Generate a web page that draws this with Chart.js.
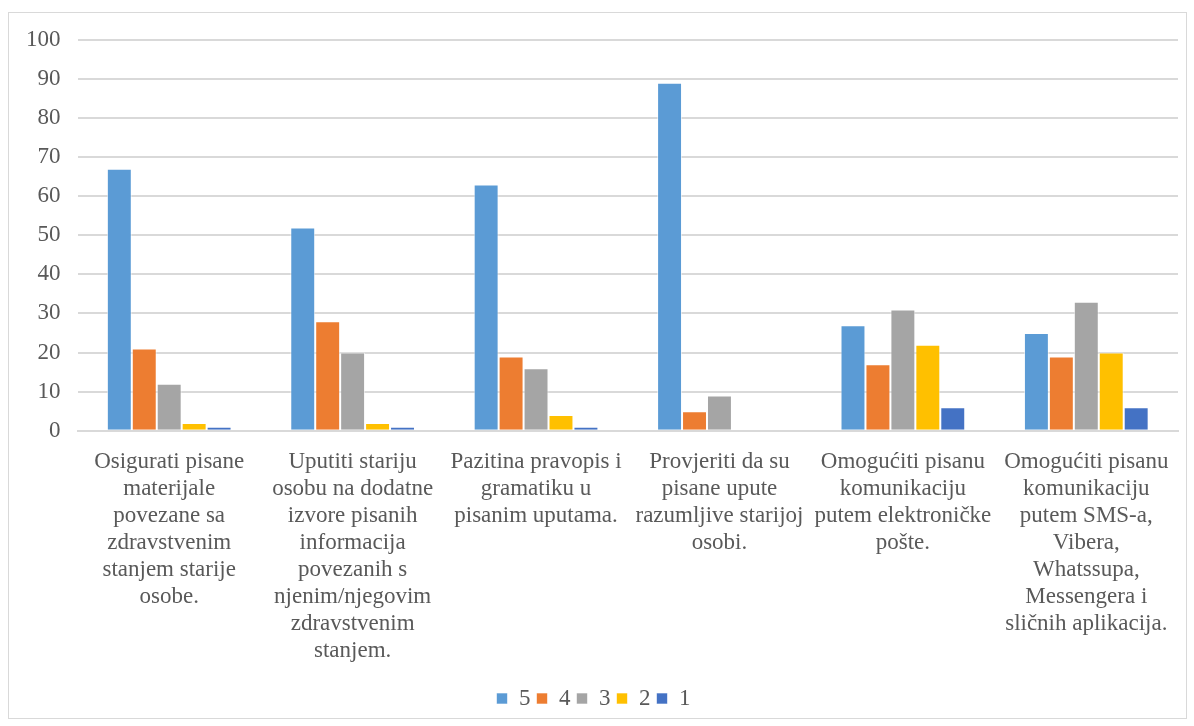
<!DOCTYPE html>
<html>
<head>
<meta charset="utf-8">
<script src="https://cdn.jsdelivr.net/npm/chart.js@4"></script>
<style>
  body { margin: 0; background: #fff; }
  #wrap { position: absolute; left: 8px; top: 12px; width: 1177px; height: 705px; border: 1px solid #d9d9d9; }
</style>
</head>
<body>
<div id="wrap"><canvas id="chart" width="1177" height="705"></canvas></div>
<script>
const categories = [
    ['Osigurati pisane', 'materijale', 'povezane sa', 'zdravstvenim', 'stanjem starije', 'osobe.'],
    ['Uputiti stariju', 'osobu na dodatne', 'izvore pisanih', 'informacija', 'povezanih s', 'njenim/njegovim', 'zdravstvenim', 'stanjem.'],
    ['Pazitina pravopis i', 'gramatiku u', 'pisanim uputama.'],
    ['Provjeriti da su', 'pisane upute', 'razumljive starijoj', 'osobi.'],
    ['Omogućiti pisanu', 'komunikaciju', 'putem elektroničke', 'pošte.'],
    ['Omogućiti pisanu', 'komunikaciju', 'putem SMS-a,', 'Vibera,', 'Whatssupa,', 'Messengera i', 'sličnih aplikacija.']
];
const seriesNames = ['5', '4', '3', '2', '1'];
const grade5 = [67, 52, 63, 89, 27, 25];
const grade4 = [21, 28, 19, 5, 17, 19];
const grade3 = [12, 20, 16, 9, 31, 33];
const grade2 = [2, 2, 4, 0, 22, 20];
const grade1 = [1, 1, 1, 0, 6, 6];
const colors = ['#5B9BD5', '#ED7D31', '#A5A5A5', '#FFC000', '#4472C4'];

const allSeries = [grade5, grade4, grade3, grade2, grade1];

const ctx = document.getElementById('chart').getContext('2d');
new Chart(ctx, {
    type: 'bar',
    data: {
        labels: categories,
        datasets: allSeries.map((vals, i) => ({
            label: seriesNames[i],
            data: vals,
            backgroundColor: colors[i],
            borderColor: 'rgba(255,255,255,0.6)',
            borderWidth: 1,
            categoryPercentage: 0.68,
            barPercentage: 1
        }))
    },
    options: {
        responsive: false,
        animation: false,
        layout: { padding: { left: 0, right: 8, top: 6, bottom: -2 } },
        scales: {
            x: {
                grid: { display: false },
                border: { color: '#d9d9d9', width: 2 },
                afterFit: function (scale) { scale.height += 7; },
                ticks: {
                    autoSkip: false,
                    maxRotation: 0,
                    minRotation: 0,
                    padding: 10,
                    color: '#595959',
                    font: { family: 'Liberation Serif', size: 23, lineHeight: 1.17 }
                }
            },
            y: {
                min: 0,
                max: 100,
                ticks: {
                    stepSize: 10,
                    padding: 17,
                    color: '#595959',
                    font: { family: 'Liberation Serif', size: 23, lineHeight: 0.85 }
                },
                grid: { color: '#d9d9d9', lineWidth: 2, drawTicks: false },
                border: { display: false }
            }
        },
        plugins: {
            legend: {
                position: 'bottom',
                labels: {
                    boxWidth: 11,
                    boxHeight: 11,
                    padding: 6,
                    color: '#595959',
                    font: { family: 'Liberation Serif', size: 23 }
                }
            },
            tooltip: { enabled: false }
        }
    }
});
</script>
</body>
</html>
